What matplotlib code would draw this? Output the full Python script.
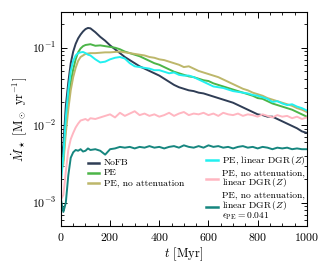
import numpy as np
import matplotlib
matplotlib.use("Agg")
import matplotlib.pyplot as plt
from matplotlib.ticker import MultipleLocator

plt.rcParams["font.family"] = ["cmr10", "DejaVu Serif"]
plt.rcParams["mathtext.fontset"] = "cm"
plt.rcParams["axes.formatter.use_mathtext"] = True

# time grid [Myr]
t = [0, 10, 20, 30, 40, 50, 60, 70, 80, 90, 100, 110, 120,
     140, 160, 180, 200, 220, 240, 260, 280, 300, 320, 340, 360, 380,
     400, 420, 440, 460, 480, 500, 520, 540, 560, 580, 600, 620, 640,
     660, 680, 700, 720, 740, 760, 780, 800, 820, 840, 860, 880, 900,
     920, 940, 960, 980, 1000]

# log10 of SFR [Msun/yr]
log_nofb = [-2.48, -2.25, -1.75, -1.45, -1.20, -1.05, -0.95, -0.88, -0.83, -0.79, -0.76, -0.745, -0.75,
            -0.80, -0.86, -0.91, -0.97, -1.02, -1.07, -1.12, -1.16, -1.20, -1.24, -1.27, -1.30, -1.33,
            -1.36, -1.40, -1.44, -1.48, -1.51, -1.53, -1.55, -1.56, -1.58, -1.59, -1.61, -1.63, -1.65,
            -1.67, -1.69, -1.71, -1.74, -1.77, -1.80, -1.83, -1.86, -1.87, -1.89, -1.89, -1.92, -1.95,
            -1.98, -2.01, -2.04, -2.08, -2.10]
log_pe = [-2.60, -2.45, -2.00, -1.70, -1.45, -1.28, -1.15, -1.06, -1.01, -0.98, -0.965, -0.96, -0.955,
          -0.975, -0.97, -0.98, -0.99, -1.00, -1.02, -1.05, -1.07, -1.09, -1.11, -1.14, -1.17, -1.20,
          -1.22, -1.25, -1.28, -1.31, -1.33, -1.35, -1.37, -1.38, -1.40, -1.42, -1.43, -1.46, -1.48,
          -1.50, -1.52, -1.54, -1.56, -1.58, -1.60, -1.62, -1.65, -1.66, -1.69, -1.72, -1.74, -1.76,
          -1.78, -1.80, -1.83, -1.86, -1.89]
log_pe_noatt = [-2.60, -2.50, -2.10, -1.80, -1.55, -1.38, -1.26, -1.17, -1.12, -1.10, -1.08, -1.075, -1.07,
                -1.07, -1.065, -1.06, -1.06, -1.055, -1.05, -1.06, -1.07, -1.08, -1.09, -1.10, -1.12, -1.13,
                -1.15, -1.16, -1.18, -1.20, -1.22, -1.25, -1.24, -1.27, -1.30, -1.32, -1.34, -1.36, -1.38,
                -1.41, -1.44, -1.47, -1.50, -1.53, -1.55, -1.58, -1.60, -1.62, -1.65, -1.67, -1.69, -1.71,
                -1.73, -1.75, -1.78, -1.80, -1.83]
log_pe_lin = [-2.74, -2.40, -1.90, -1.55, -1.30, -1.17, -1.10, -1.07, -1.06, -1.055, -1.07, -1.09, -1.10,
              -1.15, -1.19, -1.18, -1.15, -1.13, -1.12, -1.14, -1.20, -1.24, -1.25, -1.26, -1.27, -1.29,
              -1.29, -1.31, -1.33, -1.32, -1.35, -1.36, -1.36, -1.38, -1.41, -1.44, -1.47, -1.50, -1.51,
              -1.52, -1.54, -1.56, -1.57, -1.58, -1.59, -1.61, -1.62, -1.64, -1.66, -1.70, -1.69, -1.72,
              -1.74, -1.73, -1.76, -1.78, -1.81]
log_pe_noatt_lin = [-2.96, -2.90, -2.60, -2.32, -2.18, -2.10, -2.03, -1.98, -1.94, -1.93, -1.92, -1.94, -1.91,
                    -1.92, -1.90, -1.88, -1.86, -1.90, -1.84, -1.88, -1.85, -1.82, -1.87, -1.85, -1.88, -1.86,
                    -1.89, -1.87, -1.84, -1.88, -1.85, -1.83, -1.87, -1.85, -1.86, -1.84, -1.87, -1.85, -1.88,
                    -1.84, -1.86, -1.87, -1.85, -1.88, -1.86, -1.87, -1.89, -1.86, -1.88, -1.90, -1.87, -1.89,
                    -1.88, -1.91, -1.89, -1.92, -1.90]
log_pe_noatt_lin_eps = [-2.96, -3.12, -3.00, -2.65, -2.42, -2.35, -2.32, -2.33, -2.31, -2.34, -2.33, -2.30, -2.32,
                        -2.31, -2.33, -2.38, -2.31, -2.30, -2.28, -2.29, -2.28, -2.30, -2.28, -2.29, -2.27, -2.29,
                        -2.28, -2.30, -2.28, -2.27, -2.29, -2.26, -2.28, -2.29, -2.27, -2.29, -2.26, -2.28, -2.27,
                        -2.29, -2.28, -2.30, -2.28, -2.27, -2.29, -2.28, -2.30, -2.28, -2.29, -2.31, -2.29, -2.30,
                        -2.29, -2.31, -2.30, -2.31, -2.31]

runs = [
    (log_nofb, "#2f3d55", "NoFB"),
    (log_pe, "#4cb548", "PE"),
    (log_pe_noatt, "#bdb76b", "PE, no attenuation"),
    (log_pe_lin, "#22f0f0", r"PE, linear DGR$\,(Z)$"),
    (log_pe_noatt_lin, "#ffb6c1", "PE, no attenuation,\n" + r"linear DGR$\,(Z)$"),
    (log_pe_noatt_lin_eps, "#16867f",
     "PE, no attenuation,\n" + r"linear DGR$\,(Z)$" + "\n" + r"$\epsilon_{\rm PE}=0.041$"),
]

fig = plt.figure(figsize=(3.31, 2.70), dpi=100)
ax = fig.add_axes([0.184, 0.163, 0.743, 0.793])

for vals, col, lab in runs:
    ax.plot(t, 10 ** np.array(vals), color=col, lw=1.4, label=lab)

ax.set_yscale("log")
ax.set_xlim(0, 1000)
ax.set_ylim(5e-4, 0.29)
ax.xaxis.set_major_locator(MultipleLocator(200))
ax.xaxis.set_minor_locator(MultipleLocator(50))
ax.tick_params(which="both", direction="in", top=True, right=True, labelsize=8.5)
ax.tick_params(which="major", length=4, width=0.7)
ax.tick_params(which="minor", length=2, width=0.6)
for s in ax.spines.values():
    s.set_linewidth(0.8)

ax.set_xlabel(r"$t$ [Myr]", fontsize=9, labelpad=2)
ax.set_ylabel(r"$\dot{M}_\star$ [M$_\odot$ yr$^{-1}$]", fontsize=9, labelpad=2)

leg = ax.legend(loc="lower right", bbox_to_anchor=(1.025, -0.015), ncol=2, frameon=False,
                fontsize=6.9, handlelength=1.2, handletextpad=0.5, columnspacing=2.3,
                labelspacing=0.2, borderpad=0.2)
for line in leg.get_lines():
    line.set_linewidth(1.8)
for txt in leg.get_texts():
    txt.set_linespacing(0.9)
# centre the handles on multi-line labels
for col in leg._legend_handle_box.get_children():
    for row in col.get_children():
        row.align = "center"

fig.savefig("out.png", dpi=100)
